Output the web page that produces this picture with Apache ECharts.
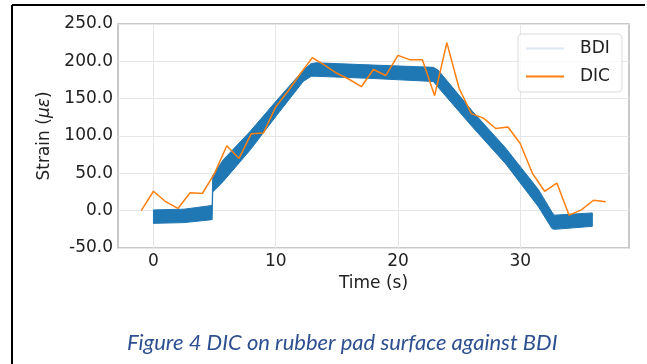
<!DOCTYPE html>
<html>
<head>
<meta charset="utf-8">
<script src="https://cdn.jsdelivr.net/npm/echarts@6/dist/echarts.min.js"></script>
<style>
  html, body { margin: 0; padding: 0; background: #fff; }
  #chart { width: 647px; height: 364px; }
</style>
</head>
<body>
<div id="chart"></div>
<script>
(function () {
  // DIC samples, one per second
  var dicTime = [-1, 0, 1, 2, 3, 4, 5, 6, 7, 8, 9, 10, 11, 12, 13, 14, 15, 16, 17, 18, 19,
    20, 21, 22, 23, 24, 25, 26, 27, 28, 29, 30, 31, 32, 33, 34, 35, 36, 37];
  var dicStrain = [0, 26, 12, 3, 24, 23, 50, 87, 70, 103, 104, 139, 160, 183, 205, 195, 184, 176, 166, 189, 181,
    208, 202, 202, 154, 225, 164, 130, 124, 110, 112, 90, 50, 26, 37, -6, 1, 14, 12];

  // BDI is a dense noisy band: lower / upper edge of the band
  var bdiTime = [0, 2.5, 4.8, 4.85, 5.7, 7.9, 10.1, 12.25, 12.9, 13.3, 18, 22.9, 23.3, 26.1, 28.8, 31.5, 32.6, 32.8, 35.9];
  var bdiLower = [-17, -16, -12, 25, 39, 81, 128, 173, 180, 180, 177, 173, 165, 112, 63, 5, -24, -25, -21];
  var bdiUpper = [1, 2, 7, 47, 68, 106, 148, 188, 197, 198, 195, 192, 188, 133, 84, 28, -2, -6, -3];

  var xTicks = [0, 10, 20, 30];

  var myChart = echarts.init(document.getElementById("chart"));

  var bandData = bdiTime.map(function (t, i) { return [t, bdiLower[i], bdiUpper[i]]; });
  var dicData = dicTime.map(function (t, i) { return [t, dicStrain[i]]; });

  // whole band as one polygon: upper edge forward, lower edge back
  function renderBand(params, api) {
    if (params.dataIndex !== 0) return null;
    var pts = [];
    for (var i = 0; i < bdiTime.length; i++) pts.push(api.coord([bdiTime[i], bdiUpper[i]]));
    for (var j = bdiTime.length - 1; j >= 0; j--) pts.push(api.coord([bdiTime[j], bdiLower[j]]));
    return {
      type: "polygon",
      shape: { points: pts },
      style: { fill: "#1f77b4", stroke: "#1f77b4", lineWidth: 1 }
    };
  }

  var font = "DejaVu Sans";
  var option = {
    backgroundColor: "#fff",
    animation: false,
    textStyle: { fontFamily: font },
    grid: {
      left: 118, top: 24, width: 511, height: 224,
      show: true, borderColor: "#b8b8b8", borderWidth: 1.5
    },
    legend: {
      orient: "vertical",
      left: 518, top: 34,
      padding: [6, 12, 7, 8],
      itemGap: 11,
      itemWidth: 38, itemHeight: 2,
      icon: "rect",
      backgroundColor: "rgba(255,255,255,0.8)",
      borderColor: "#dcdcdc", borderWidth: 1, borderRadius: 4,
      textStyle: { fontFamily: font, fontSize: 17, color: "#222", padding: [0, 0, 0, 11] },
      data: [
        { name: "BDI", itemStyle: { color: "#dbe7f3" } },
        { name: "DIC", itemStyle: { color: "#ff7f0e" } }
      ]
    },
    xAxis: {
      type: "value",
      min: -2.9, max: 38.9,
      name: "Time (s)",
      nameLocation: "middle",
      nameGap: 20,
      nameTextStyle: { fontFamily: font, fontSize: 17, color: "#222" },
      axisLine: { show: false },
      axisTick: { show: false, customValues: xTicks },
      axisLabel: { customValues: xTicks, fontFamily: font, fontSize: 17, color: "#222", margin: 5 },
      splitLine: { show: true, lineStyle: { color: "#e6e6e6", width: 1 } }
    },
    yAxis: {
      type: "value",
      min: -50, max: 250, interval: 50,
      name: "Strain ({i|με})",
      nameLocation: "middle",
      nameGap: 54,
      nameTextStyle: {
        fontFamily: font, fontSize: 17, color: "#222",
        rich: { i: { fontFamily: font, fontSize: 17, fontStyle: "italic", color: "#222" } }
      },
      axisLine: { show: false },
      axisTick: { show: false },
      axisLabel: {
        fontFamily: font, fontSize: 17, color: "#222", margin: 5,
        formatter: function (v) { return v.toFixed(1); }
      },
      splitLine: { show: true, lineStyle: { color: "#e6e6e6", width: 1 } }
    },
    series: [
      {
        name: "BDI",
        type: "custom",
        data: bandData,
        encode: { x: 0, y: [1, 2] },
        color: "#1f77b4",
        renderItem: renderBand,
        clip: true
      },
      {
        name: "DIC",
        type: "line",
        data: dicData,
        symbol: "none",
        color: "#ff7f0e",
        lineStyle: { width: 1.5, color: "#ff7f0e" },
        z: 5
      }
    ],
    graphic: [
      { type: "line", shape: { x1: 12, y1: 5, x2: 12, y2: 364 }, style: { stroke: "#000", lineWidth: 2 } },
      { type: "line", shape: { x1: 12, y1: 5, x2: 645, y2: 5 }, style: { stroke: "#000", lineWidth: 2 } },
      {
        type: "text", left: 127, top: 332,
        style: {
          text: "Figure 4 DIC on rubber pad surface against BDI",
          font: "italic 22px Lato",
          fill: "#2e5090"
        }
      }
    ]
  };

  myChart.setOption(option);
})();
</script>
</body>
</html>
